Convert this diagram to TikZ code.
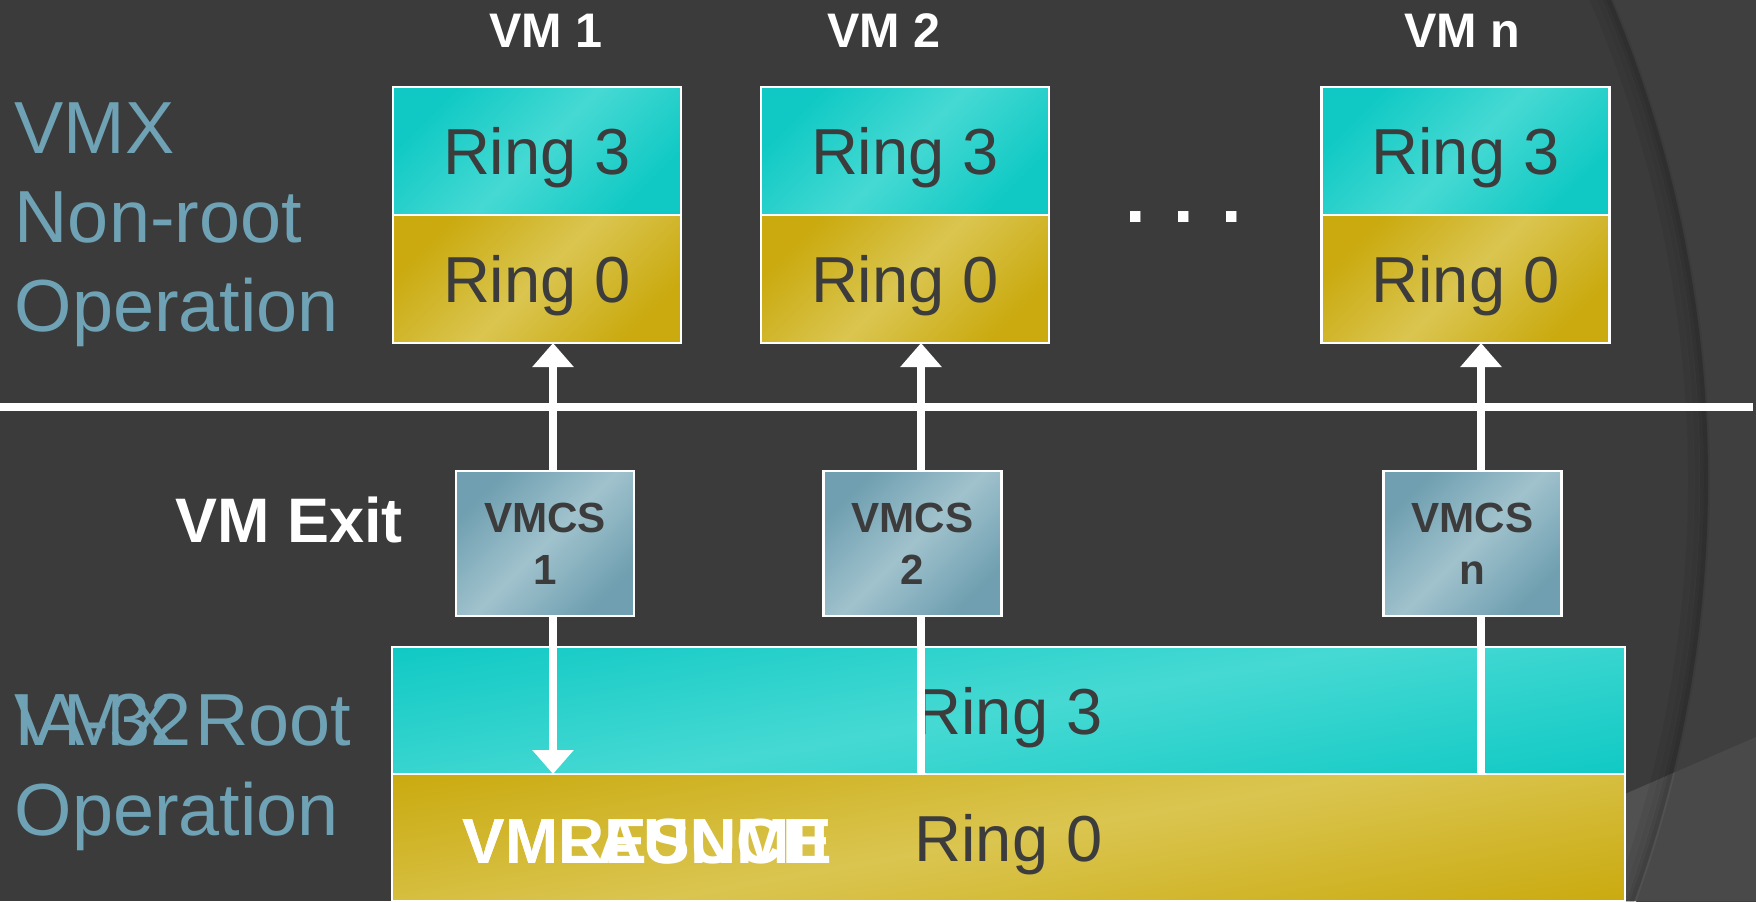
\documentclass[tikz,border=0pt]{standalone}
\usepackage{fontspec}
\setmainfont{Liberation Sans}
\usetikzlibrary{arrows.meta,calc}
\definecolor{folie}{HTML}{3B3B3B}
\definecolor{folieh}{HTML}{3F3F3F}
\definecolor{keil}{HTML}{494949}
\definecolor{keilh}{HTML}{515151}
\definecolor{tuerk}{HTML}{10C9C4}
\definecolor{tuerkl}{HTML}{46D9D3}
\definecolor{gold}{HTML}{CAAA0F}
\definecolor{goldl}{HTML}{DAC550}
\definecolor{stahl}{HTML}{6F9FB0}
\definecolor{stahll}{HTML}{A0C2CD}
\definecolor{schrift}{HTML}{3C3C3C}
\definecolor{blaugrau}{HTML}{6EA2B4}
% flacher Glanzstreifen fuer die breiten Balken
\newcommand{\barglanz}[2]{%
  \shade[top color=#1,bottom color=#1,middle color=#2,
    transform canvas={rotate around={10:(path picture bounding box.center)}}]
    ($(path picture bounding box.center)+(-7,-1.7)$) rectangle
    ($(path picture bounding box.center)+(7,1.7)$);}
\tikzset{
  kasten/.style={draw=white,line width=0.6pt,inner sep=0pt,outer sep=0pt,text=schrift,text depth=0pt},
  r3box/.style={kasten,top color=tuerk,bottom color=tuerk,middle color=tuerkl,shading angle=45,
    minimum width=2.88cm,minimum height=1.28cm,font=\fontsize{18.5}{22}\selectfont},
  r0box/.style={kasten,top color=gold,bottom color=gold,middle color=goldl,shading angle=45,
    minimum width=2.88cm,minimum height=1.28cm,font=\fontsize{18.5}{22}\selectfont},
  bar3/.style={kasten,minimum width=12.33cm,minimum height=1.27cm,
    font=\fontsize{18.5}{22}\selectfont,path picture={\barglanz{tuerk}{tuerkl}}},
  bar0/.style={kasten,minimum width=12.33cm,minimum height=1.27cm,
    font=\fontsize{18.5}{22}\selectfont,path picture={\barglanz{gold}{goldl}}},
  vmcsbox/.style={draw=white,line width=0.6pt,top color=stahl,bottom color=stahl,middle color=stahll,
    shading angle=45,minimum width=1.78cm,minimum height=1.45cm,inner sep=0pt,align=center,
    text=schrift,font=\fontsize{12}{14.8}\selectfont\bfseries},
  seite/.style={blaugrau,anchor=base west,inner sep=0pt,font=\fontsize{21}{25}\selectfont},
  vmname/.style={white,anchor=base,inner sep=0pt,font=\fontsize{13.8}{16}\selectfont\bfseries},
  befehl/.style={white,anchor=base west,inner sep=0pt,font=\fontsize{18.2}{22}\selectfont\bfseries},
  pfeil/.style={white,line width=0.08cm,-{Triangle[width=0.40cm,length=0.24cm]}},
  pfeil2/.style={white,line width=0.08cm,{Triangle[width=0.40cm,length=0.24cm]}-{Triangle[width=0.40cm,length=0.24cm]}},
  trenn/.style={white,line width=0.08cm},
}
\begin{document}
\begin{tikzpicture}
  \useasboundingbox (0,0) rectangle (17.56,-9.01);
  \clip (0,0) rectangle (17.56,-9.01);
  \fill[folie] (0,0) rectangle (17.56,-9.01);
  % --- Hintergrund rechts: Kreisbogen und Keil ---
  \fill[folieh,even odd rule] (-1,1) rectangle (19,-10) (4.74,-4.80) circle (12.36);
  \fill[keil] (14.00,-8.92) -- (17.56,-7.37) -- (17.56,-9.01) -- (14.00,-9.01) -- cycle;
  \begin{scope}
    \clip (4.74,-4.80) circle (12.36);
    \fill[keilh] (14.00,-8.92) -- (17.56,-7.37) -- (17.56,-9.01) -- (14.00,-9.01) -- cycle;
  \end{scope}
  \draw[black,opacity=0.05,line width=0.06cm] (4.74,-4.80) circle (12.17);
  \draw[black,opacity=0.09,line width=0.05cm] (4.74,-4.80) circle (12.23);
  \draw[black,opacity=0.14,line width=0.04cm] (4.74,-4.80) circle (12.28);
  \draw[black,opacity=0.20,line width=0.04cm] (4.74,-4.80) circle (12.32);

  % --- Trennlinie ---
  \coordinate (li) at (0,-4.07);
  \coordinate (re) at (17.53,-4.07);
  \draw[trenn] (li) -- (re);

  % --- Beschriftung links ---
  \node[seite] (nr1) at (0.14,-1.53) {VMX};
  \node[seite] (nr2) at (0.14,-2.42) {Non-root};
  \node[seite] (nr3) at (0.14,-3.31) {Operation};
  \node[seite] (rt1) at (0.14,-7.45) {VMX Root};
  \node[seite] (rt1b) at (0.14,-7.45) {IA-32};
  \node[seite] (rt2) at (0.14,-8.35) {Operation};

  % --- VMs ---
  \node[vmname] (n1) at (5.46,-0.48) {VM 1};
  \node[vmname] (n2) at (8.84,-0.48) {VM 2};
  \node[vmname] (nn) at (14.62,-0.48) {VM n};
  \node[r3box] (v1top) at (5.37,-1.51) {Ring 3};
  \node[r0box] (v1bot) at (5.37,-2.79) {Ring 0};
  \node[r3box] (v2top) at (9.05,-1.51) {Ring 3};
  \node[r0box] (v2bot) at (9.05,-2.79) {Ring 0};
  \node[r3box] (vntop) at (14.655,-1.51) {Ring 3};
  \node[r0box] (vnbot) at (14.655,-2.79) {Ring 0};
  \node[white,anchor=base,inner sep=0pt,font=\fontsize{21}{25}\selectfont\bfseries] (dots) at (11.84,-2.23) {. . .};

  % --- Root-Bereich ---
  \node[bar3] (bar3) at (10.085,-7.105) {Ring 3};
  \node[bar0] (bar0) at (10.085,-8.375) {Ring 0};
  \node[befehl] (lnch) at (4.62,-8.63) {VMLAUNCH};
  \node[befehl] (resm) at (4.62,-8.63) {VMRESUME};

  % --- Übergänge ---
  \coordinate (x1) at (5.53,0);
  \coordinate (x2) at (9.21,0);
  \coordinate (xn) at (14.81,0);
  \draw[pfeil2] (bar3.south -| x1) -- (v1bot.south -| x1);
  \draw[pfeil] (bar3.south -| x2) -- (v2bot.south -| x2);
  \draw[pfeil] (bar3.south -| xn) -- (vnbot.south -| xn);

  \node[white,anchor=base west,inner sep=0pt,font=\fontsize{17.9}{22}\selectfont\bfseries] (exit) at (1.75,-5.42) {VM Exit};
  \node[vmcsbox] (vmcs1) at (5.45,-5.435) {VMCS\\1};
  \node[vmcsbox] (vmcs2) at (9.125,-5.435) {VMCS\\2};
  \node[vmcsbox] (vmcsn) at (14.725,-5.435) {VMCS\\n};
\end{tikzpicture}
\end{document}
